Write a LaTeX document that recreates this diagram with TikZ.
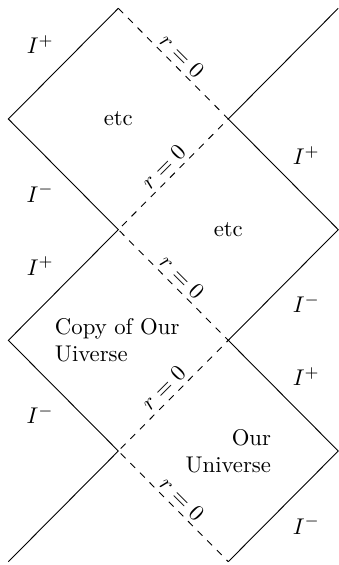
\documentclass[tikz,border=0pt]{standalone}
\begin{document}
\begin{tikzpicture}[x=1.7cm,y=1.711cm,
  bound/.style={line width=0.4pt},
  horizon/.style={dashed,line width=0.4pt},
  lab/.style={inner sep=1pt},
  rlab/.style={inner sep=0.5pt}]
\useasboundingbox (-0.076,-0.03) rectangle (3.006,5.075);
\coordinate (L0) at (0,0);
\coordinate (L2) at (0,2);
\coordinate (L4) at (0,4);
\coordinate (M1) at (1,1);
\coordinate (M3) at (1,3);
\coordinate (M5) at (1,5);
\coordinate (N0) at (2,0);
\coordinate (N2) at (2,2);
\coordinate (N4) at (2,4);
\coordinate (R1) at (3,1);
\coordinate (R3) at (3,3);
\coordinate (R5) at (3,5);
\draw[bound] (M5) -- (L4) -- (M3) -- (L2) -- (M1) -- (L0);
\draw[bound] (R5) -- (N4) -- (R3) -- (N2) -- (R1) -- (N0);
\draw[horizon] (M5) -- (N4) -- (M3) -- (N2) -- (M1) -- (N0);
% scri labels
\node[lab] (ipl1) at (0.29,4.67) {$I^+$};
\node[lab] (iml1) at (0.29,3.33) {$I^-$};
\node[lab] (ipl2) at (0.29,2.67) {$I^+$};
\node[lab] (iml2) at (0.29,1.33) {$I^-$};
\node[lab] (ipr1) at (2.71,3.67) {$I^+$};
\node[lab] (imr1) at (2.71,2.33) {$I^-$};
\node[lab] (ipr2) at (2.71,1.67) {$I^+$};
\node[lab] (imr2) at (2.71,0.33) {$I^-$};
% region labels
\node[lab] (etc1) at (1,4) {etc};
\node[lab] (etc2) at (2,3) {etc};
\node[lab,align=left] (copy) at (0.99,2) {Copy of Our\\Uiverse};
\node[lab,align=right] (ours) at (2,1) {Our\\Universe};
% r = 0 labels
\node[rlab,rotate=-45] (r1) at (1.58,4.57) {$r=0$};
\node[rlab,rotate=45] (r2) at (1.41,3.57) {$r=0$};
\node[rlab,rotate=-45] (r3) at (1.58,2.57) {$r=0$};
\node[rlab,rotate=45] (r4) at (1.41,1.57) {$r=0$};
\node[rlab,rotate=-45] (r5) at (1.58,0.57) {$r=0$};
\end{tikzpicture}
\end{document}
